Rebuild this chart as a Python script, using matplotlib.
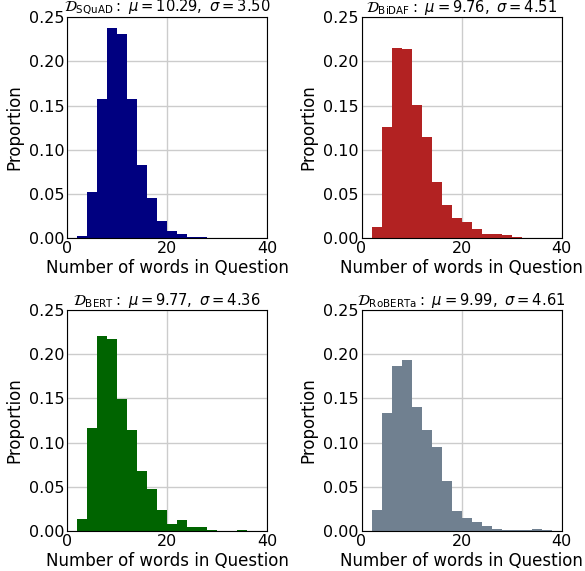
import numpy as np
import matplotlib
matplotlib.use("Agg")
import matplotlib.pyplot as plt

# histogram bins of width 2 words, 0..40
bin_edges = list(range(0, 42, 2))

squad = [0.0, 0.0023, 0.0522, 0.1576, 0.238, 0.2305, 0.1576, 0.0831, 0.0454, 0.0197,
         0.0083, 0.0045, 0.0011, 0.001, 0.0, 0.0, 0.0, 0.0, 0.0, 0.0]
bidaf = [0.0, 0.0125, 0.1259, 0.215, 0.2143, 0.1504, 0.1145, 0.0635, 0.0374, 0.0227,
         0.0181, 0.0102, 0.0045, 0.0045, 0.0034, 0.0008, 0.0, 0.0, 0.0, 0.0]
bert = [0.0, 0.0132, 0.1164, 0.2207, 0.2173, 0.1493, 0.1141, 0.0676, 0.0472, 0.0234,
        0.0083, 0.0121, 0.0042, 0.0042, 0.0008, 0.0005, 0.0005, 0.001, 0.0004, 0.0]
roberta = [0.0, 0.0234, 0.1334, 0.1867, 0.1935, 0.1402, 0.1141, 0.0952, 0.0563, 0.0227,
           0.0144, 0.0102, 0.0057, 0.0023, 0.0015, 0.0011, 0.0011, 0.0023, 0.0015, 0.0004]

names = ["SQuAD", "BiDAF", "BERT", "RoBERTa"]
means = [10.29, 9.76, 9.77, 9.99]
stds = [3.50, 4.51, 4.36, 4.61]
colors = ["navy", "firebrick", "darkgreen", "slategray"]

fig = plt.figure(figsize=(5.85, 5.71), dpi=100)
pos = [[0.115, 0.583, 0.342, 0.387],
       [0.618, 0.583, 0.342, 0.387],
       [0.115, 0.070, 0.342, 0.387],
       [0.618, 0.070, 0.342, 0.387]]

edges = np.array(bin_edges)
for i, vals in enumerate([squad, bidaf, bert, roberta]):
    ax = fig.add_axes(pos[i])
    ax.hist(edges[:-1], bins=edges, weights=vals, color=colors[i], zorder=2)
    ax.set_xlim(0, 40)
    ax.set_ylim(0, 0.25)
    ax.set_xticks([0, 20, 40])
    ax.set_yticks(np.arange(0, 0.26, 0.05))
    ax.yaxis.set_major_formatter(matplotlib.ticker.FormatStrFormatter('%.2f'))
    ax.grid(True, color='#cccccc', linewidth=1.0, zorder=0)
    ax.set_axisbelow(True)
    ax.tick_params(labelsize=11.5, length=0, pad=2)
    ax.set_xlabel("Number of words in Question", fontsize=12, labelpad=2)
    ax.set_ylabel("Proportion", fontsize=12, labelpad=4)
    ax.set_title(r"$\mathcal{D}_{\rm %s}:\ \mu=%.2f,\ \sigma=%.2f$" % (names[i], means[i], stds[i]),
                 fontsize=10.6, pad=0)

fig.savefig("out.png", dpi=100)
